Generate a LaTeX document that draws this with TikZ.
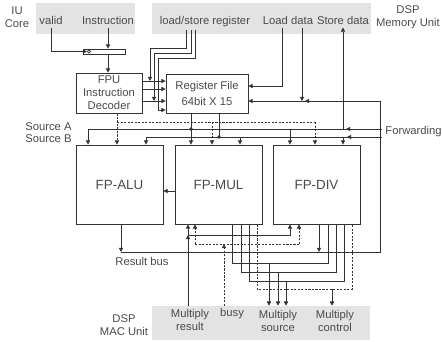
\documentclass[tikz,border=0pt]{standalone}
\usepackage{fontspec}
\setmainfont{Liberation Sans}
\usetikzlibrary{arrows.meta}
\definecolor{ink}{HTML}{333333}
\definecolor{inktext}{HTML}{4A4A4A}
\definecolor{unitgray}{HTML}{E3E3E3}
\begin{document}
\begin{tikzpicture}[x=0.025cm, y=-0.025cm, font=\fontsize{8}{9.2}\selectfont,
  wire/.style={draw=ink, line width=0.55pt},
  sig/.style={wire, -{Triangle[length=3pt,width=3pt]}},
  ctl/.style={sig, dash pattern=on 1.5pt off 1pt},
  dline/.style={wire, dash pattern=on 1.5pt off 1pt},
  block/.style={draw=ink, line width=0.55pt, inner sep=0pt, align=center, text=inktext},
  fpblock/.style={block, font=\fontsize{9.5}{11}\selectfont, minimum width=2.175cm, minimum height=1.975cm},
  unit/.style={fill=unitgray, inner sep=0pt},
  lbl/.style={align=center, inner sep=1.5pt, text=inktext},
  jdot/.style={circle, fill=ink, inner sep=0pt, minimum size=2.6pt},
  bubble/.style={circle, draw=ink, fill=white, inner sep=0pt, minimum size=2.4pt, line width=0.45pt}]
\useasboundingbox (0,0) rectangle (442,342);

% units outside the FPU
\node[unit, minimum width=2.475cm, minimum height=0.775cm] (iubox) at (85.5,18.5) {};
\node[unit, minimum width=5.475cm, minimum height=0.775cm] (membox) at (261.5,18.5) {};
\node[unit, minimum width=5.45cm, minimum height=0.85cm] (macbox) at (261,323) {};

\node[lbl] (iu) at (17,17) {IU\\Core};
\node[lbl] (dspmem) at (408,17) {DSP\\Memory Unit};
\node[lbl, anchor=base] (valid) at (51,25) {valid};
\node[lbl, anchor=base] (instr) at (108,25) {Instruction};
\node[lbl, anchor=base] (ldst) at (205,25) {load/store register};
\node[lbl, anchor=base] (lddata) at (288,25) {Load data};
\node[lbl, anchor=base] (stdata) at (343,25) {Store data};

\node[lbl] (dspmac) at (124,325) {DSP\\MAC Unit};
\node[lbl] (mres) at (190,320) {Multiply\\result};
\node[lbl, anchor=base] (busy) at (232,316) {busy};
\node[lbl] (msrc) at (278,321) {Multiply\\source};
\node[lbl] (mctl) at (335,321) {Multiply\\control};

% blocks
\node[draw=ink, line width=0.55pt, inner sep=0pt, minimum width=1.05cm, minimum height=0.125cm] (latch) at (104,51.5) {};
\node[bubble] (inv) at (89,51.5) {};
\node[block, minimum width=1.65cm, minimum height=1cm] (dec) at (109,93) {FPU\\Instruction\\Decoder};
\node[block, minimum width=2.05cm, minimum height=0.975cm] (rf) at (207,93.5) {Register File\\[1.5pt]64bit X 15};
\node[fpblock] (alu) at (119.5,184.5) {FP-ALU};
\node[fpblock] (mul) at (218.5,184.5) {FP-MUL};
\node[fpblock] (div) at (316.5,184.5) {FP-DIV};

\node[lbl, anchor=east] (srca) at (74,127) {Source A};
\node[lbl, anchor=east] (srcb) at (74,139) {Source B};
\node[lbl, anchor=east, inner sep=0pt] (fwd) at (442,132) {Forwarding};
\node[lbl] (rbus) at (142,261) {Result bus};

% instruction path
\draw[sig] (valid.south) |- (inv.west);
\draw[sig] (instr.south) -- (instr.south |- latch.north);
\draw[sig] (instr.south |- latch.south) -- (instr.south |- dec.north);

\coordinate (d1) at (142,81);
\coordinate (d2) at (142,89);
\coordinate (d3) at (142,101);
\draw[sig] (d1) -- (rf.west |- d1);
\draw[sig] (d2) -- (rf.west |- d2);
\draw[sig] (d3) -- (rf.west |- d3);

% load/store register fields
\coordinate (l1) at (186,48);
\coordinate (l2) at (191,53);
\coordinate (l3) at (195,58);
\coordinate (m1) at (150,81);
\coordinate (m2) at (154,101);
\coordinate (m3) at (158,110);
\draw[sig] (ldst.south -| l1) -- (l1) -| (m1);
\draw[sig] (ldst.south -| l2) -- (l2) -| (m2);
\draw[sig] (ldst.south -| l3) -- (l3) -| (m3) -- (rf.west |- m3);

% memory unit
\coordinate (ld1) at (282,86);
\coordinate (ld2) at (302,101);
\draw[sig] (lddata.south -| ld1) |- (rf.east |- ld1);
\draw[sig] (lddata.south -| ld2) -- (ld2);

% result bus and write back
\coordinate (wb) at (380,101);
\coordinate (wbm) at (305,101);
\coordinate (rbL) at (121,252);
\coordinate (rbR) at (380,252);
\coordinate (dv) at (319,252);
\draw[sig] (alu.south -| rbL) -- (rbL);
\draw[sig] (div.south -| dv) -- (dv);
\draw[wire] (rbL) -- (rbR) -- (wb);
\draw[sig] (wb) -- (rf.east |- wb);
\draw[sig] (wb) -- (wbm);

% register file outputs
\coordinate (ra) at (191,129);
\coordinate (rb) at (219,137);
\draw[sig] (rf.south -| ra) -- (ra |- mul.north);
\draw[wire] (rf.south -| rb) -- (rb);
\node[jdot] (ja) at (ra) {};
\node[jdot] (jb) at (rb) {};

% source A / source B / forwarding
\coordinate (aL) at (88,129);
\coordinate (aD) at (290,129);
\coordinate (st) at (343,129);
\coordinate (aF) at (346,129);
\coordinate (aR) at (381.5,129);
\draw[wire] (aL) -- (aR);
\draw[sig] (aL) -- (aL |- alu.north);
\draw[sig] (aD) -- (aD |- div.north);
\draw[sig] (aR) -- (aF);
\draw[sig] (st) -- (stdata.south);

\coordinate (bL) at (146,137);
\coordinate (bM) at (240,137);
\coordinate (bD) at (343,137);
\coordinate (bF) at (347,137);
\coordinate (bR) at (381.5,137);
\draw[wire] (bL) -- (bR);
\draw[sig] (bL) -- (bL |- alu.north);
\draw[sig] (bM) -- (bM |- mul.north);
\draw[sig] (bD) -- (bD |- div.north);
\draw[sig] (bR) -- (bF);

% control from decoder
\coordinate (cA) at (117,122);
\coordinate (cM) at (212,122);
\coordinate (cD) at (315,122);
\draw[ctl] (dec.south -| cA) -- (cA |- alu.north);
\draw[dline] (cA) -- (cD);
\draw[ctl] (cM) -- (cM |- mul.north);
\draw[ctl] (cD) -- (cD |- div.north);

\coordinate (ma) at (175,191);
\draw[sig] (ma) -- (alu.east |- ma);

% MAC unit
\coordinate (mr) at (188,235);
\coordinate (mrD) at (290,235);
\draw[sig] (macbox.north -| mr) -- (mr);
\draw[sig] (mr) -- (mr |- mul.south);
\draw[sig] (mr) -- (mrD) -- (mrD |- div.south);

\coordinate (bz) at (224,244);
\coordinate (bzM) at (195,244);
\coordinate (bzD) at (299,244);
\draw[ctl] (macbox.north -| bz) -- (bz);
\draw[dline] (bzM) -- (bzD);
\draw[ctl] (bzM) -- (bzM |- mul.south);
\draw[ctl] (bzD) -- (bzD |- div.south);

\coordinate (s1) at (232,263);
\coordinate (t1) at (328,263);
\coordinate (u1) at (269,263);
\coordinate (s2) at (241,272);
\coordinate (t2) at (336,272);
\coordinate (u2) at (278,272);
\coordinate (s3) at (249,281);
\coordinate (t3) at (344,281);
\coordinate (u3) at (286,281);
\coordinate (s4) at (257,289);
\coordinate (t4) at (352,289);
\coordinate (u4) at (332,289);
\draw[wire] (mul.south -| s1) -- (s1) -- (t1) -- (div.south -| t1);
\draw[wire] (mul.south -| s2) -- (s2) -- (t2) -- (div.south -| t2);
\draw[wire] (mul.south -| s3) -- (s3) -- (t3) -- (div.south -| t3);
\draw[dline] (mul.south -| s4) -- (s4) -- (t4) -- (div.south -| t4);
\draw[sig] (u1) -- (macbox.north -| u1);
\draw[sig] (u2) -- (macbox.north -| u2);
\draw[sig] (u3) -- (macbox.north -| u3);
\draw[sig] (u4) -- (macbox.north -| u4);
\end{tikzpicture}
\end{document}
